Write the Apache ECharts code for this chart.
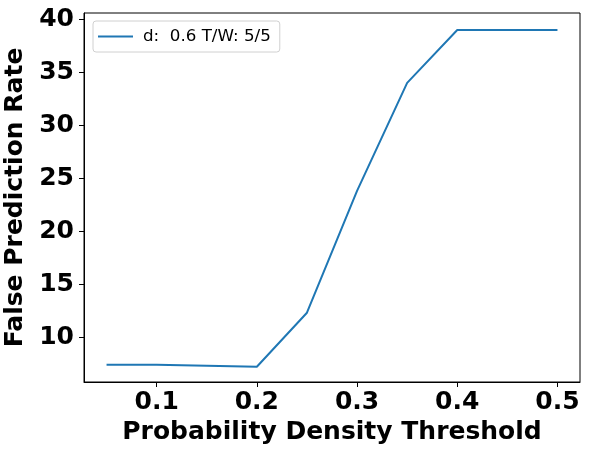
<!DOCTYPE html>
<html>
<head>
<meta charset="utf-8">
<script src="https://cdn.jsdelivr.net/npm/echarts@6/dist/echarts.min.js"></script>
<style>
  html, body { margin: 0; padding: 0; background: #fff; }
  #chart { width: 590px; height: 456px; }
</style>
</head>
<body>
<div id="chart"></div>
<script>
var thresholds = [0.05, 0.1, 0.15, 0.2, 0.25, 0.3, 0.35, 0.4, 0.45, 0.5];
var falseRate = [7.4, 7.4, 7.3, 7.2, 12.3, 23.8, 34.0, 39.0, 39.0, 39.0];
var xTicks = [0.1, 0.2, 0.3, 0.4, 0.5];
var yTicks = [10, 15, 20, 25, 30, 35, 40];
var seriesName = 'd:  0.6 T/W: 5/5';

var chart = echarts.init(document.getElementById('chart'));

var boldFont = {
  fontFamily: 'DejaVu Sans',
  fontWeight: 'bold',
  fontSize: 25,
  color: '#000'
};

var option = {
  animation: false,
  grid: {
    left: 84,
    right: 10,
    top: 13,
    bottom: 74,
    outerBoundsMode: 'none',
    containLabel: false,
    show: true,
    borderColor: '#000',
    borderWidth: 1
  },
  legend: {
    data: [seriesName],
    left: 93,
    top: 21,
    orient: 'vertical',
    padding: [7, 9, 7, 5],
    itemWidth: 35,
    itemHeight: 2,
    icon: 'rect',
    borderColor: '#d0d0d0',
    borderWidth: 1,
    borderRadius: 3,
    backgroundColor: 'rgba(255,255,255,0.8)',
    textStyle: {
      fontFamily: 'DejaVu Sans',
      fontSize: 16.7,
      color: '#000',
      padding: [0, 0, 0, 5]
    }
  },
  xAxis: {
    type: 'value',
    min: 0.0275,
    max: 0.5225,
    name: 'Probability Density Threshold',
    nameLocation: 'middle',
    nameGap: 37,
    nameTextStyle: boldFont,
    splitLine: { show: false },
    axisLine: { show: true, onZero: false, lineStyle: { color: '#000' } },
    axisTick: { show: true, customValues: xTicks, length: 5, lineStyle: { color: '#000' } },
    axisLabel: Object.assign({ customValues: xTicks, margin: 8 }, boldFont)
  },
  yAxis: {
    type: 'value',
    min: 5.76,
    max: 40.6,
    name: 'False Prediction Rate',
    nameLocation: 'middle',
    nameGap: 52,
    nameTextStyle: boldFont,
    splitLine: { show: false },
    axisLine: { show: true, onZero: false, lineStyle: { color: '#000' } },
    axisTick: { show: true, customValues: yTicks, length: 5, lineStyle: { color: '#000' } },
    axisLabel: Object.assign({ customValues: yTicks, margin: 10 }, boldFont)
  },
  series: [{
    name: seriesName,
    type: 'line',
    data: thresholds.map(function (t, i) { return [t, falseRate[i]]; }),
    showSymbol: false,
    symbol: 'none',
    color: '#1f77b4',
    lineStyle: { width: 2, color: '#1f77b4' }
  }]
};

chart.setOption(option);
</script>
</body>
</html>
